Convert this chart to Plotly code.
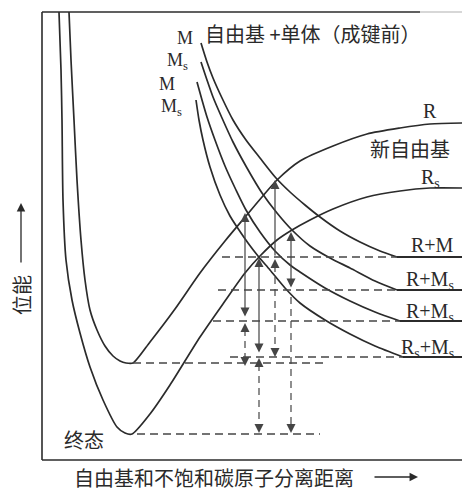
import plotly.graph_objects as go

# ---- potential-energy curves (x: separation distance, y: depth on the page scale) ----
# upper well: radical + monomer complex, continuing into the new radical R
upper_x = [69, 71, 74, 77, 81, 85, 90, 97, 105, 113, 120, 126, 133, 150, 175, 200, 225, 246, 262, 277, 300, 333, 367, 400, 430, 462]
upper_y = [12, 60, 120, 180, 240, 280, 310, 330, 346, 356, 361, 363, 363, 342, 309, 273, 241, 216, 197, 180, 161, 146, 134, 128, 124, 123]

# lower well: final state, continuing into the stabilised radical Rs
lower_x = [59, 61, 62, 63, 66, 72, 80, 90, 103, 117, 125, 132, 150, 170, 200, 225, 245, 260, 277, 292, 310, 333, 367, 400, 430, 462]
lower_y = [12, 70, 120, 200, 260, 300, 333, 367, 400, 427, 433, 434, 414, 385, 337, 301, 273, 256, 240, 230, 220, 209, 197, 191, 188, 188]

# repulsive radical + monomer curves (M, Ms, M, Ms from top)
m1_x = [201, 207, 213, 222, 233, 246, 260, 276, 290, 305, 320, 340, 360, 380, 397]
m1_y = [43, 62, 78, 98, 120, 140, 158, 178, 192, 205, 217, 231, 242, 251, 257]
m2_x = [201, 207, 213, 222, 233, 247, 262, 277, 292, 310, 330, 350, 375, 397]
m2_y = [62, 80, 97, 118, 142, 168, 193, 213, 230, 246, 258, 268, 281, 290]
m3_x = [197, 202, 207, 215, 225, 236, 246, 260, 275, 290, 300, 325, 350, 375, 400]
m3_y = [82, 100, 117, 140, 166, 190, 210, 232, 251, 265, 272, 288, 301, 312, 321]
m4_x = [196, 199, 203, 210, 220, 230, 237, 248, 258, 270, 285, 300, 325, 350, 375, 403]
m4_y = [100, 120, 140, 167, 195, 216, 227, 243, 256, 270, 288, 303, 320, 334, 346, 357]

# separated-state energy levels
level_labels = ["R+M", "R+M<sub>s</sub>", "R+M<sub>s</sub>", "R<sub>s</sub>+M<sub>s</sub>"]
level_y = [257, 290, 321, 357]
level_corner_x = [397, 397, 400, 403]
level_dash_from = [222, 218, 213, 230]

# well-bottom levels
well_level_y = [363, 434]
well_level_from = [133, 137]
well_level_to = [328, 320]

# activation / reaction-energy arrows: x, top, bottom, heads
solid_arrows = [
    (245, 213, 318, "both"),
    (259, 258, 354, "both"),
    (275, 180, 257, "up"),
    (291, 232, 289, "both"),
]
dashed_arrows = [
    (245, 323, 366, "both"),
    (259, 358, 433, "both"),
    (275, 259, 357, "both"),
    (291, 291, 433, "down"),
]

curve_labels = [("M", 185, 38), ("M<sub>s</sub>", 177, 61), ("M", 167, 84), ("M<sub>s</sub>", 171, 107)]

LINE = "#2b2b2b"
ARROW = "#454545"
TEXT = "#2a2a2a"
CJK = "Noto Sans CJK SC"
SERIF = "Liberation Serif"

fig = go.Figure()


def add_line(xs, ys, width=1.7, color=LINE, dash=None, shape="spline"):
    fig.add_trace(go.Scatter(
        x=xs, y=ys, mode="lines", hoverinfo="skip", showlegend=False,
        line=dict(color=color, width=width, dash=dash, shape=shape,
                  smoothing=0.7 if shape == "spline" else None),
    ))


# frame
add_line([42, 42], [12, 460], width=1.6, shape="linear")
add_line([42, 462], [460, 460], width=1.6, shape="linear")
add_line([42, 420], [12, 12], width=1.6, shape="linear")
add_line([420, 462], [12, 12], width=1.2, color="#b0b0b0", shape="linear")

# curves
add_line(upper_x, upper_y)
add_line(lower_x, lower_y)
for xs, ys in [(m1_x, m1_y), (m2_x, m2_y), (m3_x, m3_y), (m4_x, m4_y)]:
    add_line(xs, ys)

# separated levels: solid to the right, dashed to the left
for y, cx, dx in zip(level_y, level_corner_x, level_dash_from):
    add_line([cx, 462], [y, y], width=1.9, shape="linear")
    add_line([dx, cx], [y, y], width=1.3, color=ARROW, dash="8px,5px", shape="linear")
for y, x0, x1 in zip(well_level_y, well_level_from, well_level_to):
    add_line([x0, x1], [y, y], width=1.3, color=ARROW, dash="8px,5px", shape="linear")

annotations = []


def head(x, tip, tail):
    return dict(x=x, y=tip, ax=x, ay=tail, xref="x", yref="y", axref="x", ayref="y",
                text="", showarrow=True, arrowhead=2, arrowsize=1.5, arrowwidth=1.2,
                arrowcolor=ARROW, standoff=0)


for x, top, bot, kind in solid_arrows:
    if kind == "both":
        a = head(x, top, bot)
        a.update(arrowside="end+start", startarrowhead=2, startarrowsize=1.5)
        annotations.append(a)
    elif kind == "up":
        annotations.append(head(x, top, bot))
    else:
        annotations.append(head(x, bot, top))

for x, top, bot, kind in dashed_arrows:
    add_line([x, x], [top + 6, bot - 6], width=1.2, color=ARROW, dash="7px,5px", shape="linear")
    if kind in ("both", "up"):
        annotations.append(head(x, top, top + 8))
    if kind in ("both", "down"):
        annotations.append(head(x, bot, bot - 8))

# axis-direction arrows
annotations.append(dict(x=21, y=203, ax=21, ay=264, xref="x", yref="y", axref="x", ayref="y",
                        text="", showarrow=True, arrowhead=2, arrowsize=1.3, arrowwidth=1.3,
                        arrowcolor=TEXT, standoff=0))
annotations.append(dict(x=418, y=477, ax=373, ay=477, xref="x", yref="y", axref="x", ayref="y",
                        text="", showarrow=True, arrowhead=2, arrowsize=1.3, arrowwidth=1.3,
                        arrowcolor=TEXT, standoff=0))


def label(text, x, y, size, family, xanchor="center", angle=0):
    annotations.append(dict(x=x, y=y, xref="x", yref="y", text=text, showarrow=False,
                            xanchor=xanchor, yanchor="middle", textangle=angle,
                            font=dict(family=family, size=size, color=TEXT)))


label("自由基 +单体（成键前）", 313, 33, 20, CJK)
label("新自由基", 410, 148, 20, CJK)
label("终态", 84, 439, 20, CJK)
label("位能", 21, 295, 20, CJK, angle=-90)
label("自由基和不饱和碳原子分离距离", 214, 477, 20, CJK)
label("R", 430, 111, 20, SERIF)
label("R<sub>s</sub>", 430, 178, 20, SERIF)
for text, x, y in curve_labels:
    label(text, x, y, 18, SERIF)
for text, y in zip(level_labels, [245, 280, 312, 348]):
    label(text, 456, y, 20, SERIF, xanchor="right")

fig.update_layout(
    width=462, height=492,
    margin=dict(l=0, r=0, t=0, b=0),
    paper_bgcolor="white", plot_bgcolor="white",
    xaxis=dict(range=[0, 462], visible=False, fixedrange=True),
    yaxis=dict(range=[492, 0], visible=False, fixedrange=True),
    annotations=annotations,
    showlegend=False,
)

fig.write_html("out.html")
